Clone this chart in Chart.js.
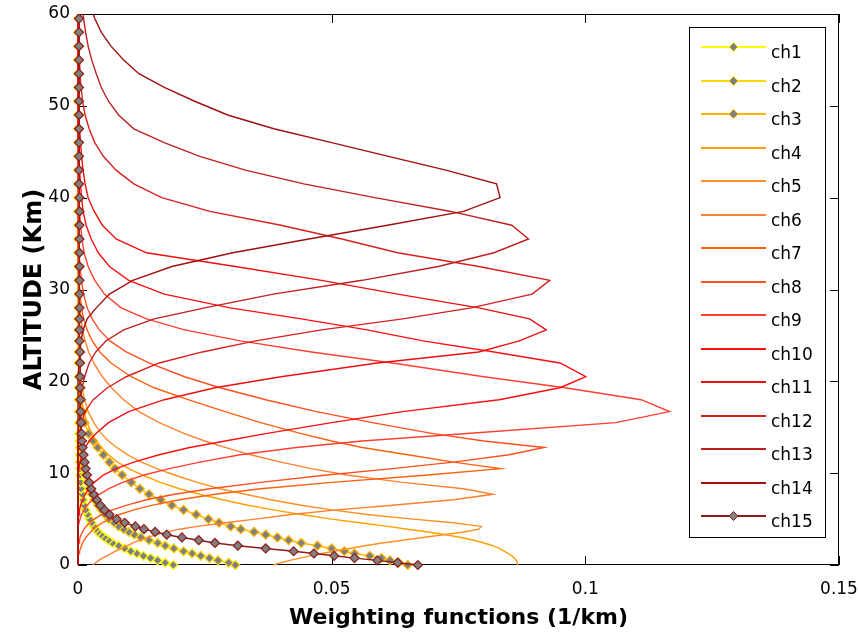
<!DOCTYPE html>
<html>
<head>
<meta charset="utf-8">
<title>Weighting functions</title>
<script src="https://cdn.jsdelivr.net/npm/chart.js@4.4.1/dist/chart.umd.min.js"></script>
<style>
  html, body { margin: 0; padding: 0; background: #fff; }
  #wrap { width: 859px; height: 637px; }
</style>
</head>
<body>
<div id="wrap"><canvas id="wf" width="859" height="637"></canvas></div>
<script>
// ---- data: altitude levels (km) and weighting function per channel (1/km) ----
const altitudeKm = [
  0, 0.25, 0.5, 0.75, 1.0, 1.25, 1.5, 1.8, 2.1, 2.4,
  2.7, 3.0, 3.3, 3.6, 3.9, 4.2, 4.6, 5.0, 5.5, 6.0,
  6.5, 7.1, 7.7, 8.3, 9.0, 9.8, 10.5, 11.2, 12.0, 12.8,
  13.5, 14.3, 15.5, 16.7, 18.0, 19.3, 20.5, 22.0, 23.2, 24.4,
  25.6, 26.8, 28.0, 29.5, 31.0, 32.5, 34.0, 35.5, 37.0, 38.5,
  40.0, 41.5, 43.0, 44.5, 46.0, 47.5, 49.0, 50.5, 52.0, 53.5,
  55.0, 56.5, 58.0, 59.5, 61.0
];

const ch1 = [
  0.0188, 0.0172, 0.0157, 0.0143, 0.0129, 0.0116, 0.0104, 0.0092, 0.0080, 0.0068,
  0.0060, 0.0052, 0.0045, 0.0039, 0.0035, 0.0031, 0.0027, 0.0023, 0.0019, 0.0015,
  0.0012, 0.0010, 0.0008, 0.0006, 0.0005, 0.0004, 0.0004, 0.0003, 0.0003, 0.0003,
  0.0003, 0.0002, 0.0002, 0.0002, 0.0002, 0.0002, 0.0002, 0.0002, 0.0002, 0.0002,
  0.0002, 0.0001, 0.0001, 0.0001, 0.0001, 0.0001, 0.0001, 0.0001, 0.0001, 0.0001,
  0.0001, 0.0001, 0.0001, 0.0001, 0.0001, 0.0001, 0.0001, 0.0001, 0.0001, 0.0001,
  0.0001, 0.0001, 0.0001, 0.0001, 0.0001
];
const ch2 = [
  0.0310, 0.0297, 0.0276, 0.0259, 0.0242, 0.0225, 0.0208, 0.0189, 0.0172, 0.0157,
  0.0140, 0.0124, 0.0111, 0.0100, 0.0090, 0.0080, 0.0071, 0.0061, 0.0053, 0.0046,
  0.0039, 0.0032, 0.0027, 0.0022, 0.0018, 0.0014, 0.0011, 0.0009, 0.0007, 0.0006,
  0.0005, 0.0004, 0.0003, 0.0003, 0.0002, 0.0002, 0.0002, 0.0002, 0.0002, 0.0002,
  0.0002, 0.0002, 0.0002, 0.0002, 0.0002, 0.0002, 0.0001, 0.0001, 0.0001, 0.0001,
  0.0001, 0.0001, 0.0001, 0.0001, 0.0001, 0.0001, 0.0001, 0.0001, 0.0001, 0.0001,
  0.0001, 0.0001, 0.0001, 0.0001, 0.0001
];
const ch3 = [
  0.0650, 0.0632, 0.0615, 0.0598, 0.0575, 0.0545, 0.0525, 0.0500, 0.0472, 0.0440,
  0.0415, 0.0393, 0.0370, 0.0347, 0.0321, 0.0301, 0.0278, 0.0257, 0.0233, 0.0208,
  0.0185, 0.0163, 0.0140, 0.0122, 0.0105, 0.0087, 0.0073, 0.0062, 0.0050, 0.0039,
  0.0030, 0.0021, 0.0013, 0.0009, 0.0006, 0.0005, 0.0004, 0.0004, 0.0003, 0.0003,
  0.0002, 0.0002, 0.0002, 0.0002, 0.0002, 0.0002, 0.0002, 0.0002, 0.0002, 0.0002,
  0.0002, 0.0001, 0.0001, 0.0001, 0.0001, 0.0001, 0.0001, 0.0001, 0.0001, 0.0001,
  0.0001, 0.0001, 0.0001, 0.0001, 0.0001
];
const ch4 = [
  0.0866, 0.0866, 0.0864, 0.0860, 0.0855, 0.0848, 0.0840, 0.0830, 0.0818, 0.0800,
  0.0780, 0.0755, 0.0725, 0.0690, 0.0650, 0.0610, 0.0555, 0.0500, 0.0440, 0.0385,
  0.0335, 0.0285, 0.0240, 0.0200, 0.0162, 0.0127, 0.0100, 0.0078, 0.0060, 0.0046,
  0.0036, 0.0027, 0.0018, 0.0012, 0.0007, 0.0004, 0.0003, 0.0002, 0.0001, 0,
  0, 0, 0, 0, 0, 0, 0, 0, 0, 0,
  0, 0, 0, 0, 0, 0, 0, 0, 0, 0,
  0, 0, 0, 0, 0
];
const ch5 = [
  0.0385, 0.0400, 0.0418, 0.0437, 0.0458, 0.0480, 0.0505, 0.0535, 0.0565, 0.0600,
  0.0640, 0.0680, 0.0720, 0.0760, 0.0790, 0.0795, 0.0740, 0.0660, 0.0570, 0.0500,
  0.0440, 0.0380, 0.0330, 0.0280, 0.0235, 0.0190, 0.0155, 0.0125, 0.0098, 0.0076,
  0.0060, 0.0046, 0.0031, 0.0020, 0.0013, 0.0008, 0.0005, 0.0003, 0.0002, 0.0001,
  0, 0, 0, 0, 0, 0, 0, 0, 0, 0,
  0, 0, 0, 0, 0, 0, 0, 0, 0, 0,
  0, 0, 0, 0, 0
];
const ch6 = [
  0.0029, 0.0035, 0.0041, 0.0048, 0.0057, 0.0065, 0.0074, 0.0086, 0.0098, 0.0108,
  0.0122, 0.0137, 0.0155, 0.0175, 0.0200, 0.0235, 0.0290, 0.0350, 0.0420, 0.0510,
  0.0620, 0.0740, 0.0818, 0.0760, 0.0640, 0.0530, 0.0460, 0.0400, 0.0340, 0.0290,
  0.0250, 0.0210, 0.0160, 0.0120, 0.0090, 0.0066, 0.0048, 0.0031, 0.0021, 0.0014,
  0.0009, 0.0006, 0.0004, 0.0002, 0.0001, 0, 0, 0, 0, 0,
  0, 0, 0, 0, 0, 0, 0, 0, 0, 0,
  0, 0, 0, 0, 0
];
const ch7 = [
  0, 0, 0, 0, 0.0001, 0.0002, 0.0003, 0.0005, 0.0007, 0.0009,
  0.0012, 0.0016, 0.0020, 0.0025, 0.0030, 0.0037, 0.0048, 0.0062, 0.0082, 0.0110,
  0.0145, 0.0200, 0.0270, 0.0360, 0.0500, 0.0690, 0.0833, 0.0740, 0.0650, 0.0560,
  0.0500, 0.0440, 0.0360, 0.0290, 0.0217, 0.0150, 0.0105, 0.0065, 0.0043, 0.0028,
  0.0018, 0.0011, 0.0007, 0.0004, 0.0002, 0.0001, 0, 0, 0, 0,
  0, 0, 0, 0, 0, 0, 0, 0, 0, 0,
  0, 0, 0, 0, 0
];
const ch8 = [
  0, 0, 0, 0, 0, 0, 0, 0, 0.0001, 0.0002,
  0.0003, 0.0004, 0.0006, 0.0009, 0.0012, 0.0016, 0.0023, 0.0032, 0.0047, 0.0068,
  0.0095, 0.0135, 0.0190, 0.0260, 0.0360, 0.0490, 0.0620, 0.0740, 0.0850, 0.0919,
  0.0800, 0.0700, 0.0580, 0.0470, 0.0370, 0.0280, 0.0210, 0.0140, 0.0095, 0.0063,
  0.0042, 0.0028, 0.0018, 0.0011, 0.0007, 0.0004, 0.0002, 0.0001, 0, 0,
  0, 0, 0, 0, 0, 0, 0, 0, 0, 0,
  0, 0, 0, 0, 0
];
const ch9 = [
  0, 0, 0, 0, 0, 0, 0, 0, 0, 0,
  0, 0, 0, 0, 0, 0.0001, 0.0002, 0.0004, 0.0007, 0.0012,
  0.0018, 0.0028, 0.0042, 0.0060, 0.0088, 0.0130, 0.0180, 0.0240, 0.0320, 0.0430,
  0.0560, 0.0760, 0.1060, 0.1166, 0.1110, 0.0960, 0.0800, 0.0620, 0.0460, 0.0320,
  0.0210, 0.0135, 0.0085, 0.0052, 0.0033, 0.0020, 0.0012, 0.0008, 0.0005, 0.0003,
  0.0002, 0.0001, 0, 0, 0, 0, 0, 0, 0, 0,
  0, 0, 0, 0, 0
];
const ch10 = [
  0, 0, 0, 0, 0, 0, 0, 0, 0, 0,
  0, 0, 0, 0, 0, 0, 0, 0.0001, 0.0002, 0.0003,
  0.0005, 0.0009, 0.0014, 0.0021, 0.0032, 0.0050, 0.0075, 0.0110, 0.0160, 0.0220,
  0.0290, 0.0370, 0.0500, 0.0640, 0.0830, 0.0950, 0.1001, 0.0950, 0.0820, 0.0680,
  0.0570, 0.0440, 0.0300, 0.0170, 0.0100, 0.0062, 0.0040, 0.0026, 0.0016, 0.0010,
  0.0007, 0.0005, 0.0003, 0.0002, 0.0001, 0, 0, 0, 0, 0,
  0, 0, 0, 0, 0
];
const ch11 = [
  0, 0, 0, 0, 0, 0, 0, 0, 0, 0,
  0, 0, 0, 0, 0, 0, 0, 0, 0, 0,
  0, 0, 0, 0, 0, 0.0001, 0.0002, 0.0004, 0.0008, 0.0014,
  0.0022, 0.0035, 0.0060, 0.0100, 0.0170, 0.0270, 0.0400, 0.0590, 0.0790, 0.0870,
  0.0923, 0.0890, 0.0790, 0.0630, 0.0480, 0.0310, 0.0135, 0.0075, 0.0048, 0.0032,
  0.0020, 0.0014, 0.0010, 0.0007, 0.0005, 0.0003, 0.0002, 0.0001, 0, 0,
  0, 0, 0, 0, 0
];
const ch12 = [
  0, 0, 0, 0, 0, 0, 0, 0, 0, 0,
  0, 0, 0, 0, 0, 0, 0, 0, 0, 0,
  0, 0, 0, 0, 0, 0, 0, 0, 0, 0,
  0.0001, 0.0003, 0.0007, 0.0014, 0.0030, 0.0058, 0.0095, 0.0160, 0.0245, 0.0350,
  0.0480, 0.0640, 0.0775, 0.0895, 0.0930, 0.0790, 0.0630, 0.0520, 0.0400, 0.0260,
  0.0165, 0.0110, 0.0075, 0.0050, 0.0033, 0.0022, 0.0014, 0.0009, 0.0006, 0.0004,
  0.0003, 0.0002, 0.0002, 0.0001, 0.0001
];
const ch13 = [
  0, 0, 0, 0, 0, 0, 0, 0, 0, 0,
  0, 0, 0, 0, 0, 0, 0, 0, 0, 0,
  0, 0, 0, 0, 0, 0, 0, 0, 0, 0,
  0, 0.0001, 0.0002, 0.0003, 0.0005, 0.0008, 0.0013, 0.0022, 0.0035, 0.0055,
  0.0090, 0.0150, 0.0250, 0.0385, 0.0560, 0.0710, 0.0820, 0.0888, 0.0855, 0.0735,
  0.0585, 0.0445, 0.0330, 0.0240, 0.0170, 0.0110, 0.0080, 0.0060, 0.0046, 0.0036,
  0.0027, 0.0020, 0.0015, 0.0011, 0.0008
];
const ch14 = [
  0, 0, 0, 0, 0, 0, 0, 0, 0, 0,
  0, 0, 0, 0, 0, 0, 0, 0, 0, 0,
  0, 0, 0, 0, 0, 0, 0, 0, 0, 0,
  0, 0, 0, 0, 0, 0, 0.0001, 0.0002, 0.0004, 0.0006,
  0.0010, 0.0018, 0.0036, 0.0062, 0.0108, 0.0185, 0.0305, 0.0455, 0.0610, 0.0760,
  0.0832, 0.0825, 0.0725, 0.0612, 0.0500, 0.0386, 0.0295, 0.0230, 0.0170, 0.0120,
  0.0090, 0.0065, 0.0046, 0.0033, 0.0024
];
const ch15 = [
  0.0670, 0.0630, 0.0590, 0.0545, 0.0505, 0.0465, 0.0425, 0.0370, 0.0315, 0.0270,
  0.0238, 0.0205, 0.0175, 0.0152, 0.0130, 0.0113, 0.0092, 0.0076, 0.0062, 0.0052,
  0.0044, 0.0037, 0.0031, 0.0026, 0.0022, 0.0018, 0.0015, 0.0013, 0.0011, 0.0009,
  0.0008, 0.0007, 0.0006, 0.0005, 0.0005, 0.0004, 0.0004, 0.0004, 0.0004, 0.0003,
  0.0003, 0.0003, 0.0003, 0.0003, 0.0003, 0.0003, 0.0003, 0.0003, 0.0003, 0.0003,
  0.0003, 0.0002, 0.0002, 0.0002, 0.0002, 0.0002, 0.0002, 0.0002, 0.0002, 0.0002,
  0.0002, 0.0002, 0.0002, 0.0002, 0.0002
];

const channelNames = ['ch1','ch2','ch3','ch4','ch5','ch6','ch7','ch8','ch9','ch10','ch11','ch12','ch13','ch14','ch15'];
const channelColors = ['#ffff00','#ffd700','#ffb400','#ffa000','#ff9020','#ff8030','#ff6010','#ff5020',
                       '#ff4030','#ff1010','#ee1010','#d82020','#c02020','#a01010','#8b1c1c'];
const hasMarkers = [true, true, true, false, false, false, false, false, false, false, false, false, false, false, true];
const xTicks = [0, 0.05, 0.1, 0.15];
const yTicks = [0, 10, 20, 30, 40, 50, 60];

(function(){
  const FONT = "'DejaVu Sans', sans-serif";
  const TICK = 9;
  const series = [ch1, ch2, ch3, ch4, ch5, ch6, ch7, ch8, ch9, ch10, ch11, ch12, ch13, ch14, ch15];

  // ---- MATLAB-style box with inward ticks (drawn under the data) ----
  const axesBox = {
    id: 'axesBox',
    beforeDatasetsDraw(chart){
      const {ctx, chartArea:a, scales:{x, y}} = chart;
      ctx.save();
      ctx.strokeStyle = '#000';
      ctx.lineWidth = 1;
      ctx.strokeRect(a.left + 0.5, a.top + 0.5, a.right - a.left - 1, a.bottom - a.top - 1);
      ctx.beginPath();
      xTicks.forEach(v=>{
        const px = Math.round(x.getPixelForValue(v)) + 0.5;
        ctx.moveTo(px, a.bottom); ctx.lineTo(px, a.bottom - TICK);
        ctx.moveTo(px, a.top); ctx.lineTo(px, a.top + TICK);
      });
      yTicks.forEach(v=>{
        const py = Math.round(y.getPixelForValue(v)) + 0.5;
        ctx.moveTo(a.left, py); ctx.lineTo(a.left + TICK, py);
        ctx.moveTo(a.right, py); ctx.lineTo(a.right - TICK, py);
      });
      ctx.stroke();
      ctx.restore();
    }
  };

  // ---- legend box inside the plot, top right ----
  function diamond(ctx, cx, cy, r, fill, edge){
    ctx.beginPath();
    ctx.moveTo(cx, cy - r); ctx.lineTo(cx + r, cy); ctx.lineTo(cx, cy + r); ctx.lineTo(cx - r, cy);
    ctx.closePath();
    ctx.fillStyle = fill; ctx.fill();
    ctx.strokeStyle = edge; ctx.lineWidth = 1; ctx.stroke();
  }
  const legendBox = {
    id: 'legendBox',
    afterDraw(chart){
      const ctx = chart.ctx;
      const L = 689, T = 27, R = 825, B = 537;
      ctx.save();
      ctx.fillStyle = '#fff';
      ctx.fillRect(L, T, R - L, B - T);
      ctx.strokeStyle = '#000';
      ctx.lineWidth = 1;
      ctx.strokeRect(L + 0.5, T + 0.5, R - L, B - T);
      ctx.font = '17px ' + FONT;
      ctx.textBaseline = 'alphabetic';
      chart.data.datasets.forEach((ds, i)=>{
        const yy = Math.round(47 + i * 33.5);
        ctx.strokeStyle = ds.borderColor;
        ctx.lineWidth = 2;
        ctx.beginPath(); ctx.moveTo(701, yy); ctx.lineTo(766, yy); ctx.stroke();
        if (ds.pointRadius > 0) diamond(ctx, 733.5, yy, 4.5, ds.pointBackgroundColor, ds.pointBorderColor);
        ctx.fillStyle = '#000';
        ctx.fillText(ds.label, 771, yy + 11);
      });
      ctx.restore();
    }
  };

  const datasets = series.map((w, i)=>({
    label: channelNames[i],
    data: w.map((v, k)=>({x: v, y: altitudeKm[k]})),
    showLine: true,
    borderColor: channelColors[i],
    borderWidth: 1.4,
    pointStyle: 'rectRot',
    pointRadius: hasMarkers[i] ? 4.5 : 0,
    pointBackgroundColor: '#808080',
    pointBorderColor: channelColors[i],
    pointBorderWidth: 1.2,
    tension: 0,
    order: series.length - i,
    clip: {left: 7, top: 0, right: 0, bottom: 7}
  }));

  new Chart(document.getElementById('wf'), {
    type: 'scatter',
    data: {datasets},
    options: {
      responsive: false,
      devicePixelRatio: 1,
      animation: false,
      events: [],
      layout: {padding: {top: 14, right: 20, left: 0, bottom: 0}},
      plugins: {legend: {display: false}, tooltip: {enabled: false}},
      scales: {
        x: {
          type: 'linear', min: 0, max: 0.15,
          afterFit: s=>{ s.height = 72; s.paddingLeft = 0; s.paddingRight = 0; },
          afterBuildTicks: s=>{ s.ticks = xTicks.map(v=>({value: v})); },
          grid: {display: false, drawTicks: false},
          border: {display: false},
          ticks: {color: '#000', padding: 14, font: {family: FONT, size: 17},
                  callback: v=> String(+v.toFixed(2))},
          title: {display: true, text: 'Weighting functions (1/km)', color: '#000',
                  font: {family: FONT, size: 22, weight: 'bold'}, padding: {top: 0, bottom: 6}}
        },
        y: {
          type: 'linear', min: 0, max: 60,
          afterFit: s=>{ s.width = 78; s.paddingTop = 0; s.paddingBottom = 0; },
          afterBuildTicks: s=>{ s.ticks = yTicks.map(v=>({value: v})); },
          grid: {display: false, drawTicks: false},
          border: {display: false},
          ticks: {color: '#000', padding: 8, font: {family: FONT, size: 17}},
          title: {display: true, text: 'ALTITUDE (Km)', color: '#000',
                  font: {family: FONT, size: 24, weight: 'bold'}, padding: {top: 20, bottom: 0}}
        }
      }
    },
    plugins: [axesBox, legendBox]
  });
})();
</script>
</body>
</html>
